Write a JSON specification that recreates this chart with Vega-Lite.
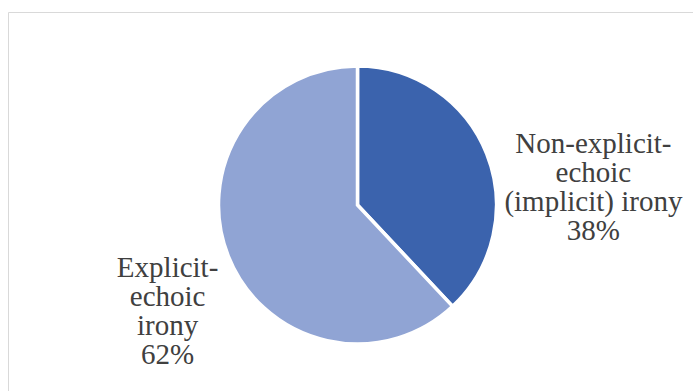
{
  "$schema": "https://vega.github.io/schema/vega-lite/v6.json",
  "width": 699,
  "height": 386,
  "autosize": {"type": "none"},
  "padding": {"left": 8, "top": 12, "right": 0, "bottom": 0},
  "background": "white",
  "view": {"stroke": "#d9d9d9", "strokeWidth": 1, "fill": "white"},
  "data": {
    "values": [
      {"label": "Non-explicit-\nechoic\n(implicit) irony", "value": 38},
      {"label": "Explicit-\nechoic\nirony", "value": 62}
    ]
  },
  "transform": [
    {"stack": "value", "groupby": [], "sort": [{"field": "value", "order": "ascending"}], "as": ["v0", "v1"]},
    {"calculate": "(datum.v0 + datum.v1) / 2", "as": "mid"},
    {"calculate": "datum.label + '\\n' + datum.value + '%'", "as": "text"}
  ],
  "layer": [
    {
      "mark": {"type": "arc", "outerRadius": 139, "stroke": "white", "strokeWidth": 3.5},
      "encoding": {
        "theta": {"field": "v0", "type": "quantitative", "scale": {"domain": [0, 100]}},
        "theta2": {"field": "v1"},
        "color": {
          "field": "value",
          "type": "nominal",
          "scale": {"domain": [38, 62], "range": ["#3b63ad", "#90a4d4"]},
          "legend": null
        }
      }
    },
    {
      "transform": [{"filter": "datum.value == 38"}],
      "mark": {
        "type": "text",
        "font": "'Liberation Serif', 'Times New Roman', serif",
        "radius": 215,
        "dx": 36,
        "dy": 27,
        "fontSize": 29,
        "lineHeight": 29,
        "lineBreak": "\n",
        "align": "center",
        "baseline": "alphabetic",
        "color": "#404040"
      },
      "encoding": {
        "theta": {"field": "mid", "type": "quantitative", "scale": {"domain": [0, 100]}},
        "text": {"field": "text"}
      }
    },
    {
      "transform": [{"filter": "datum.value == 62"}],
      "mark": {
        "type": "text",
        "font": "'Liberation Serif', 'Times New Roman', serif",
        "radius": 215,
        "dx": 10,
        "dy": -7,
        "fontSize": 29,
        "lineHeight": 29,
        "lineBreak": "\n",
        "align": "center",
        "baseline": "alphabetic",
        "color": "#404040"
      },
      "encoding": {
        "theta": {"field": "mid", "type": "quantitative", "scale": {"domain": [0, 100]}},
        "text": {"field": "text"}
      }
    }
  ]
}
